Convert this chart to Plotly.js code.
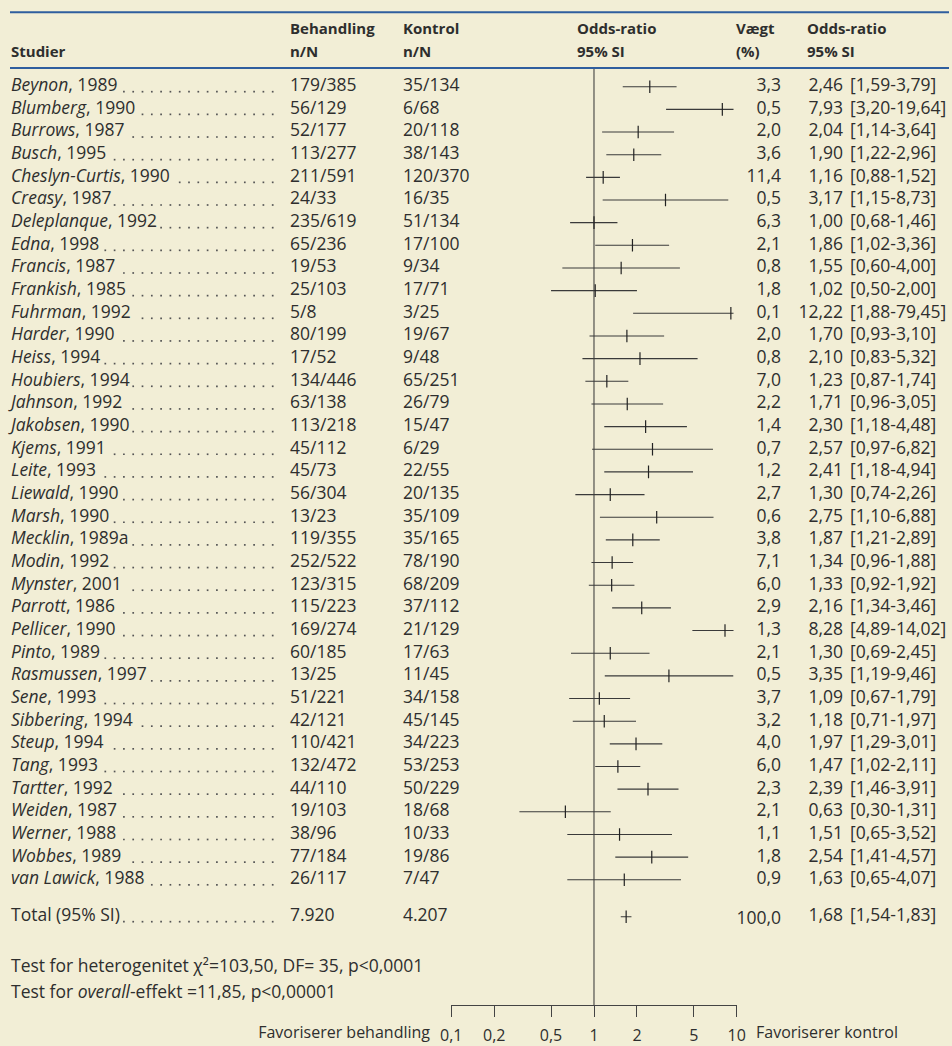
<!DOCTYPE html>
<html><head><meta charset="utf-8">
<script src="https://cdn.plot.ly/plotly-3.0.1.min.js"></script>
<style>html,body{margin:0;padding:0;background:#f2eed6;} #chart{width:952px;height:1046px;}</style>
</head><body><div id="chart"></div>
<script>
// ---------------- data ----------------
const studies = ['Beynon','Blumberg','Burrows','Busch','Cheslyn-Curtis','Creasy','Deleplanque','Edna','Francis','Frankish','Fuhrman','Harder','Heiss','Houbiers','Jahnson','Jakobsen','Kjems','Leite','Liewald','Marsh','Mecklin','Modin','Mynster','Parrott','Pellicer','Pinto','Rasmussen','Sene','Sibbering','Steup','Tang','Tartter','Weiden','Werner','Wobbes','van Lawick'];
const years = ['1989','1990','1987','1995','1990','1987','1992','1998','1987','1985','1992','1990','1994','1994','1992','1990','1991','1993','1990','1990','1989a','1992','2001','1986','1990','1989','1997','1993','1994','1994','1993','1992','1987','1988','1989','1988'];
const treatment = ['179/385','56/129','52/177','113/277','211/591','24/33','235/619','65/236','19/53','25/103','5/8','80/199','17/52','134/446','63/138','113/218','45/112','45/73','56/304','13/23','119/355','252/522','123/315','115/223','169/274','60/185','13/25','51/221','42/121','110/421','132/472','44/110','19/103','38/96','77/184','26/117'];
const control = ['35/134','6/68','20/118','38/143','120/370','16/35','51/134','17/100','9/34','17/71','3/25','19/67','9/48','65/251','26/79','15/47','6/29','22/55','20/135','35/109','35/165','78/190','68/209','37/112','21/129','17/63','11/45','34/158','45/145','34/223','53/253','50/229','18/68','10/33','19/86','7/47'];
const weights = [3.3,0.5,2.0,3.6,11.4,0.5,6.3,2.1,0.8,1.8,0.1,2.0,0.8,7.0,2.2,1.4,0.7,1.2,2.7,0.6,3.8,7.1,6.0,2.9,1.3,2.1,0.5,3.7,3.2,4.0,6.0,2.3,2.1,1.1,1.8,0.9];
const oddsRatio = [2.46,7.93,2.04,1.90,1.16,3.17,1.00,1.86,1.55,1.02,12.22,1.70,2.10,1.23,1.71,2.30,2.57,2.41,1.30,2.75,1.87,1.34,1.33,2.16,8.28,1.30,3.35,1.09,1.18,1.97,1.47,2.39,0.63,1.51,2.54,1.63];
const ciLow = [1.59,3.20,1.14,1.22,0.88,1.15,0.68,1.02,0.60,0.50,1.88,0.93,0.83,0.87,0.96,1.18,0.97,1.18,0.74,1.10,1.21,0.96,0.92,1.34,4.89,0.69,1.19,0.67,0.71,1.29,1.02,1.46,0.30,0.65,1.41,0.65];
const ciHigh = [3.79,19.64,3.64,2.96,1.52,8.73,1.46,3.36,4.00,2.00,79.45,3.10,5.32,1.74,3.05,4.48,6.82,4.94,2.26,6.88,2.89,1.88,1.92,3.46,14.02,2.45,9.46,1.79,1.97,3.01,2.11,3.91,1.31,3.52,4.57,4.07];
const totalLabel = 'Total (95% SI)';
const totalTreatment = '7.920';
const totalControl = '4.207';
const totalWeight = 100.0;
const totalOR = 1.68, totalLow = 1.54, totalHigh = 1.83;
const tickValues = [0.1,0.2,0.5,1,2,5,10];
const tickLabels = ['0,1','0,2','0,5','1','2','5','10'];
const headerTop = ['Behandling','Kontrol','Odds-ratio','Vægt','Odds-ratio'];
const headerBottom = ['n/N','n/N','95% SI','(%)','95% SI'];
const testLines = ['Test for heterogenitet \u03c7\u00b2=103,50, DF= 35, p&lt;0,0001',
                   'Test for <i>overall</i>-effekt =11,85, p&lt;0,00001'];
const favourLeft = 'Favoriserer behandling';
const favourRight = 'Favoriserer kontrol';

// ---------------- layout constants ----------------
const W = 952, H = 1046;
const ROW0 = 86.7, PITCH = 22.66;           // pixel centre of first row, row pitch
const rowOf = px => (px - ROW0) / PITCH;    // pixel -> row units
const FONT = '"Open Sans", sans-serif';
const FS = 17.5;      // table body
const FSH = 15;       // header (bold)
const FSB = 16;       // bottom axis labels
const TXT = '#2e2e2e';
const COL = {name: 11, treat: 290, ctrl: 403, orHead: 577, wHead: 736, wRight: 781, orRight: 843, ciLeft: 850, orHead2: 807};
const DOT_END = 272.7, DOT_STEP = 9.3, DOT_DROP = 5;
const CLAMP_LINE = 9.5, CLAMP_MARK = 9.1;   // drawing clamps at right axis end, as in the original
const comma = (v, d) => v.toFixed(d).replace('.', ',');

const rows = studies.map((_, i) => i);
const totalRow = rowOf(916.7);

// measure label widths to place dot leaders
const ctx = document.createElement('canvas').getContext('2d');
function labelWidth(italicPart, normalPart) {
  ctx.font = `italic ${FS}px "Open Sans"`;
  let w = ctx.measureText(italicPart).width;
  ctx.font = `${FS}px "Open Sans"`;
  return w + ctx.measureText(normalPart).width;
}
const dotX = [], dotY = [];
function addDots(textEnd, row) {
  for (let x = DOT_END; x >= textEnd + 3; x -= DOT_STEP) { dotX.push(x); dotY.push(row + DOT_DROP / PITCH); }
}
studies.forEach((s, i) => addDots(COL.name + labelWidth(s, ', ' + years[i]), i));
addDots(COL.name + labelWidth('', totalLabel), totalRow);

const traces = [];
function textTrace(xpx, ys, texts, pos, font) {
  traces.push({
    type: 'scatter', mode: 'text', xaxis: 'x2', yaxis: 'y',
    x: ys.map(() => xpx), y: ys, text: texts, textposition: pos,
    textfont: Object.assign({family: FONT, size: FS, color: TXT}, font || {}),
    hoverinfo: 'skip', showlegend: false, cliponaxis: false
  });
}

// table columns
textTrace(COL.name, rows.concat([totalRow]), studies.map((s, i) => `<i>${s}</i>, ${years[i]}`).concat([totalLabel]), 'middle right');
textTrace(COL.treat, rows.concat([totalRow]), treatment.concat([totalTreatment]), 'middle right');
textTrace(COL.ctrl, rows.concat([totalRow]), control.concat([totalControl]), 'middle right');
textTrace(COL.wRight, rows.concat([totalRow + 3 / PITCH]), weights.map(w => comma(w, 1)).concat([comma(totalWeight, 1)]), 'middle left');
textTrace(COL.orRight, rows.concat([totalRow]), oddsRatio.map(v => comma(v, 2)).concat([comma(totalOR, 2)]), 'middle left');
textTrace(COL.ciLeft, rows.concat([totalRow]),
  ciLow.map((l, i) => `[${comma(l, 2)}-${comma(ciHigh[i], 2)}]`).concat([`[${comma(totalLow, 2)}-${comma(totalHigh, 2)}]`]), 'middle right');

// headers
const headX = [COL.treat, COL.ctrl, COL.orHead, COL.wHead, COL.orHead2];
headX.forEach((x, k) => {
  textTrace(x, [rowOf(30.7), rowOf(53.3)], [`<b>${headerTop[k]}</b>`, `<b>${headerBottom[k]}</b>`], 'middle right', {size: FSH});
});
textTrace(COL.name, [rowOf(53.3)], ['<b>Studier</b>'], 'middle right', {size: FSH});

// test lines
textTrace(COL.name, [rowOf(967.7), rowOf(993.3)], testLines, 'middle right');
// favour labels
textTrace(430, [rowOf(1034)], [favourLeft], 'middle left', {size: FSB});
textTrace(756, [rowOf(1034)], [favourRight], 'middle right', {size: FSB});

// dot leaders
traces.push({type: 'scatter', mode: 'markers', xaxis: 'x2', yaxis: 'y', x: dotX, y: dotY,
  marker: {symbol: 'square', size: 1.7, color: '#555'}, hoverinfo: 'skip', showlegend: false});

// reference line at OR = 1
traces.push({type: 'scatter', mode: 'lines', xaxis: 'x', yaxis: 'y', x: [1, 1], y: [rowOf(68), rowOf(1005)],
  line: {color: '#333', width: 1}, hoverinfo: 'skip', showlegend: false, cliponaxis: false});

// CI lines
const lx = [], ly = [];
oddsRatio.forEach((_, i) => { lx.push(ciLow[i], Math.min(ciHigh[i], CLAMP_LINE), null); ly.push(i, i, null); });
lx.push(totalLow, totalHigh, null); ly.push(totalRow, totalRow, null);
traces.push({type: 'scatter', mode: 'lines', xaxis: 'x', yaxis: 'y', x: lx, y: ly,
  line: {color: '#3a3a3a', width: 1.1}, hoverinfo: 'skip', showlegend: false});
// point estimates
traces.push({type: 'scatter', mode: 'markers', xaxis: 'x', yaxis: 'y',
  x: oddsRatio.map(v => Math.min(v, CLAMP_MARK)).concat([totalOR]), y: rows.concat([totalRow]),
  marker: {symbol: 'line-ns-open', size: 9, color: '#222', line: {color: '#222', width: 1.2}}, hoverinfo: 'skip', showlegend: false});

const layout = {
  width: W, height: H, margin: {l: 0, r: 0, t: 0, b: 0},
  paper_bgcolor: '#f2eed6', plot_bgcolor: 'rgba(0,0,0,0)', showlegend: false,
  xaxis: {type: 'log', range: [-1, 1], domain: [451.3 / W, 736.7 / W], anchor: 'free', position: 1 - 1005 / H,
    showline: true, linecolor: '#444', linewidth: 1, ticks: 'outside', ticklen: 11, tickcolor: '#444', tickwidth: 1,
    tickvals: tickValues, ticktext: tickLabels, showgrid: false, zeroline: false, ticklabelstandoff: 5,
    tickfont: {family: FONT, size: FSB, color: TXT}, fixedrange: true},
  xaxis2: {range: [0, W], domain: [0, 1], anchor: 'y', visible: false, fixedrange: true},
  yaxis: {range: [rowOf(H), rowOf(0)], domain: [0, 1], visible: false, fixedrange: true},
  shapes: [12.3, 68].map(py => ({type: 'line', xref: 'paper', yref: 'paper', x0: 10 / W, x1: 949 / W,
    y0: 1 - py / H, y1: 1 - py / H, line: {color: '#2f5e9e', width: 2}}))
};

Plotly.newPlot('chart', traces, layout, {staticPlot: true, displayModeBar: false});
</script></body></html>
